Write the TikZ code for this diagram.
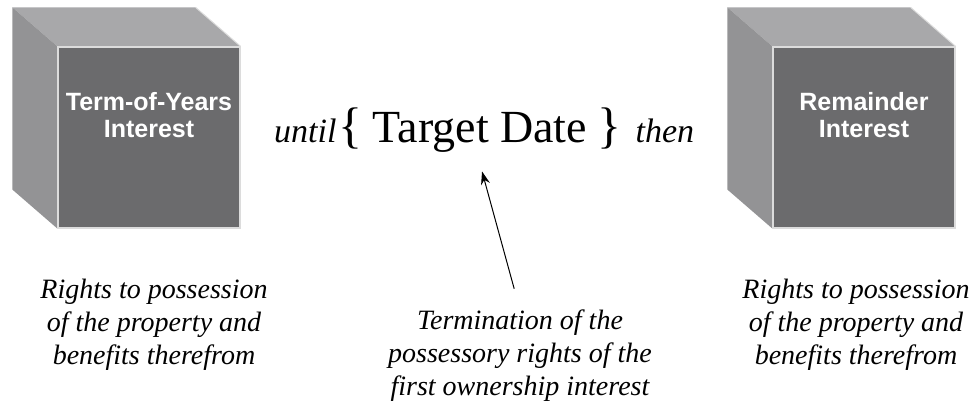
\documentclass[tikz,border=0pt]{standalone}
\usepackage{fontspec}
\setmainfont{Liberation Serif}
\setsansfont{Liberation Sans}
\usetikzlibrary{arrows.meta,calc,positioning,backgrounds}

\definecolor{frontgray}{HTML}{6B6B6D}
\definecolor{topgray}{HTML}{A8A8AA}
\definecolor{sidegray}{HTML}{939395}
\definecolor{edgegray}{HTML}{DCDCDC}

\newcommand{\bigbrace}[1]{{\fontsize{50}{50}\selectfont#1}}

\begin{document}
\begin{tikzpicture}[x=1pt, y=-1pt, every node/.style={inner sep=0pt}]
  % Define dimensions
  \def\dx{-45}
  \def\dy{-39}
  \tikzset{
    face/.style={fill=frontgray, draw=edgegray, line width=1.2pt,
                 minimum width=182pt, minimum height=181pt},
    facetext/.style={text=white, align=center,
                 font=\sffamily\bfseries\fontsize{25}{27}\selectfont},
    caption/.style={align=center, font=\itshape\fontsize{28}{33}\selectfont}
  }
  \useasboundingbox (0,0) rectangle (976,411);

  % Draw boxes
  \foreach \name/\cx/\txt in {termbox/149/{Term-of-Years\\Interest},
                              rembox/864/{Remainder\\Interest}} {
      \node[face] (\name) at (\cx,137.5) {};
      \node[facetext] (\name-text) at ([yshift=22pt]\name.center) {\txt};
      \begin{scope}[on background layer]
        \fill[topgray] (\name.north west) -- ++(\dx,\dy)
            -- ($(\name.north east)+(\dx,\dy)$) -- (\name.north east) -- cycle;
        \fill[sidegray] (\name.north west) -- ++(\dx,\dy)
            -- ($(\name.south west)+(\dx,\dy)$) -- (\name.south west) -- cycle;
      \end{scope}
      \draw[edgegray, line width=1pt] ($(\name.north east)+(\dx,\dy)$) -- (\name.north east);
  }

  % Middle line
  \node[anchor=base, font=\fontsize{46}{50}\selectfont] (target) at (480,143)
      {\bigbrace{\{}\hspace{10pt}Target Date\hspace{10pt}\bigbrace{\}}};
  \node[base left=2pt of target, font=\itshape\fontsize{34}{38}\selectfont] (until) {until};
  \node[base right=14pt of target, font=\itshape\fontsize{34}{38}\selectfont] (then) {then};

  % Captions
  \node[caption] (leftcap) at (154,325) {Rights to possession\\of the property and\\benefits therefrom};
  \node[caption] (termcap) at (520,356) {Termination of the\\possessory rights of the\\first ownership interest};
  \node[caption] (rightcap) at (856,325) {Rights to possession\\of the property and\\benefits therefrom};

  \draw[-{Stealth[length=13pt,width=9pt]}, line width=1pt, shorten >=19pt, shorten <=22pt]
      (termcap.north) -- ([xshift=-3pt]target.south);
\end{tikzpicture}
\end{document}
